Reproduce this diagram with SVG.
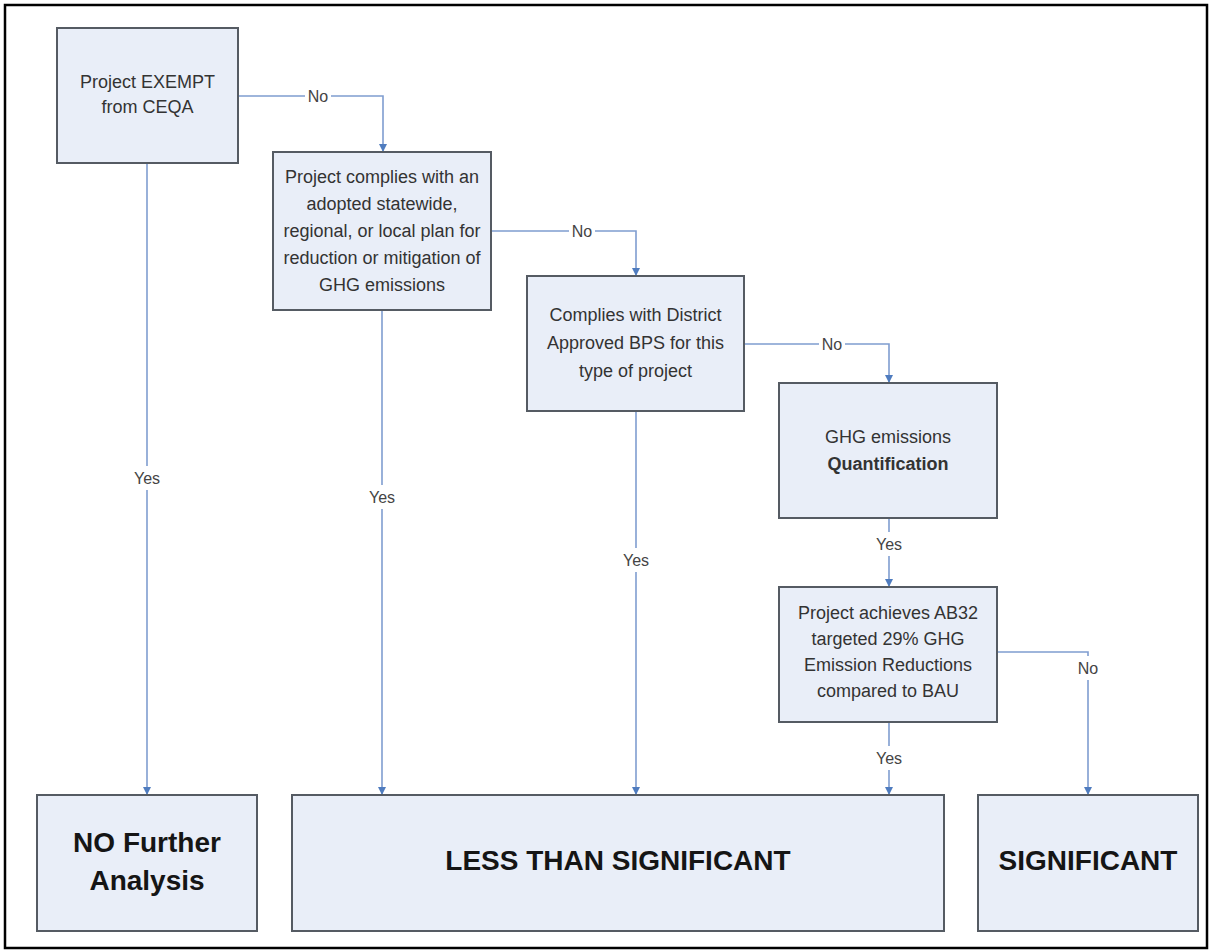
<svg xmlns="http://www.w3.org/2000/svg" width="1212" height="952" viewBox="0 0 1212 952">
<style>
.box{fill:#e9eef8;stroke:#555b63;stroke-width:2}
.t{font-family:"Liberation Sans",Arial,sans-serif;font-size:18px;fill:#333;text-anchor:middle}
.b{font-family:"Liberation Sans",Arial,sans-serif;font-size:28px;font-weight:bold;fill:#151515;text-anchor:middle}
.q{font-weight:bold}
.ln{fill:none;stroke:#7f9dd0;stroke-width:1.6}
.lb{font-family:"Liberation Sans",Arial,sans-serif;font-size:16px;fill:#444;text-anchor:middle}
.bg{fill:#fff}
</style>
<defs>
<marker id="ah" markerWidth="10" markerHeight="10" refX="5" refY="9" orient="auto" markerUnits="userSpaceOnUse" viewBox="0 0 10 10">
<path d="M1,1 L9,1 L5,9 Z" fill="#4f7cbf" transform="rotate(-90 5 5)"/>
</marker>
<marker id="arr" markerWidth="10" markerHeight="10" refX="9" refY="5" orient="auto" markerUnits="userSpaceOnUse" viewBox="0 0 10 10">
<path d="M1,1 L9,5 L1,9 Z" fill="#4f7cbf"/>
</marker>
</defs>
<rect x="5" y="5" width="1202" height="943" fill="#fff" stroke="#000" stroke-width="2.5"/>
<g id="connectors">
<path class="ln" d="M238,96 H383 V152" marker-end="url(#arr)"/>
<path class="ln" d="M491,231 H636 V276" marker-end="url(#arr)"/>
<path class="ln" d="M744,344 H889 V383" marker-end="url(#arr)"/>
<path class="ln" d="M147,163 V795" marker-end="url(#arr)"/>
<path class="ln" d="M382,310 V795" marker-end="url(#arr)"/>
<path class="ln" d="M636,411 V795" marker-end="url(#arr)"/>
<path class="ln" d="M889,518 V587" marker-end="url(#arr)"/>
<path class="ln" d="M889,722 V795" marker-end="url(#arr)"/>
<path class="ln" d="M997,652 H1088 V795" marker-end="url(#arr)"/>
<rect class="bg" x="305" y="87" width="26" height="18"/>
<text class="lb" x="318" y="102">No</text>
<rect class="bg" x="569" y="222" width="26" height="18"/>
<text class="lb" x="582" y="237">No</text>
<rect class="bg" x="819" y="335" width="26" height="18"/>
<text class="lb" x="832" y="350">No</text>
<rect class="bg" x="133" y="466" width="28" height="24"/>
<text class="lb" x="147" y="484">Yes</text>
<rect class="bg" x="368" y="485" width="28" height="24"/>
<text class="lb" x="382" y="503">Yes</text>
<rect class="bg" x="622" y="548" width="28" height="24"/>
<text class="lb" x="636" y="566">Yes</text>
<rect class="bg" x="875" y="532" width="28" height="24"/>
<text class="lb" x="889" y="550">Yes</text>
<rect class="bg" x="875" y="746" width="28" height="24"/>
<text class="lb" x="889" y="764">Yes</text>
<rect class="bg" x="1075" y="656" width="26" height="24"/>
<text class="lb" x="1088" y="674">No</text>
</g>
<g id="exempt">
<rect class="box" x="57" y="28" width="181" height="135"/>
<text class="t" x="147.5" y="88">Project EXEMPT</text>
<text class="t" x="147.5" y="113">from CEQA</text>
</g>
<g id="complies-plan">
<rect class="box" x="273" y="152" width="218" height="158"/>
<text class="t" x="382" y="183">Project complies with an</text>
<text class="t" x="382" y="210">adopted statewide,</text>
<text class="t" x="382" y="237">regional, or local plan for</text>
<text class="t" x="382" y="264">reduction or mitigation of</text>
<text class="t" x="382" y="291">GHG emissions</text>
</g>
<g id="complies-bps">
<rect class="box" x="527" y="276" width="217" height="135"/>
<text class="t" x="635.5" y="321">Complies with District</text>
<text class="t" x="635.5" y="349">Approved BPS for this</text>
<text class="t" x="635.5" y="377">type of project</text>
</g>
<g id="quantification">
<rect class="box" x="779" y="383" width="218" height="135"/>
<text class="t" x="888" y="443">GHG emissions</text>
<text class="t q" x="888" y="470">Quantification</text>
</g>
<g id="ab32">
<rect class="box" x="779" y="587" width="218" height="135"/>
<text class="t" x="888" y="619">Project achieves AB32</text>
<text class="t" x="888" y="645">targeted 29% GHG</text>
<text class="t" x="888" y="671">Emission Reductions</text>
<text class="t" x="888" y="697">compared to BAU</text>
</g>
<g id="no-further">
<rect class="box" x="37" y="795" width="220" height="136"/>
<text class="b" x="147" y="852">NO Further</text>
<text class="b" x="147" y="890">Analysis</text>
</g>
<g id="less-than">
<rect class="box" x="292" y="795" width="652" height="136"/>
<text class="b" x="618" y="870">LESS THAN SIGNIFICANT</text>
</g>
<g id="significant">
<rect class="box" x="978" y="795" width="220" height="136"/>
<text class="b" x="1088" y="870">SIGNIFICANT</text>
</g>
</svg>
